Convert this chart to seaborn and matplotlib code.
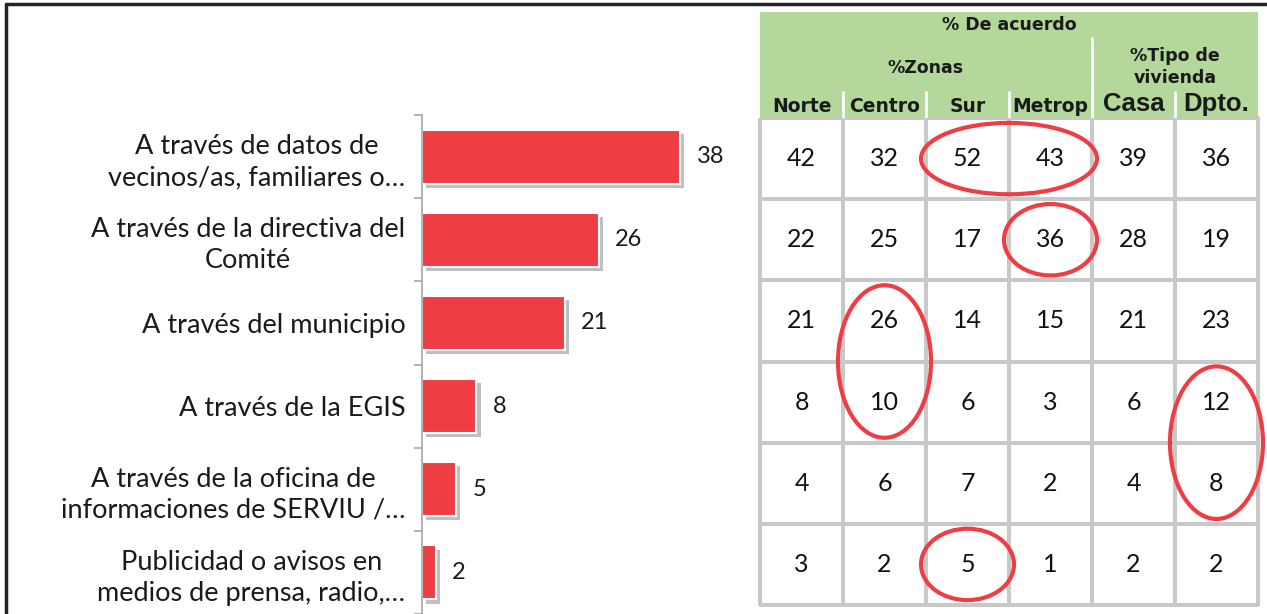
import matplotlib
matplotlib.use("Agg")
import matplotlib.pyplot as plt
import matplotlib.patheffects as pe
from matplotlib.patches import Ellipse
from matplotlib.lines import Line2D
from matplotlib.colors import ListedColormap
import seaborn as sns
import numpy as np
import pandas as pd

# Datos
canales = [
    "A través de datos de\nvecinos/as, familiares o…",
    "A través de la directiva del\nComité",
    "A través del municipio",
    "A través de la EGIS",
    "A través de la oficina de\ninformaciones de SERVIU /…",
    "Publicidad o avisos en\nmedios de prensa, radio,…",
]
total = [38, 26, 21, 8, 5, 2]

columnas = ["Norte", "Centro", "Sur", "Metrop", "Casa", "Dpto."]
norte = [42, 22, 21, 8, 4, 3]
centro = [32, 25, 26, 10, 6, 2]
sur = [52, 17, 14, 6, 7, 5]
metrop = [43, 36, 15, 3, 2, 1]
casa = [39, 28, 21, 6, 4, 2]
dpto = [36, 19, 23, 12, 8, 2]

# celdas destacadas con elipse: (fila_ini, fila_fin, col_ini, col_fin)
destacados = [(0, 0, 2, 3), (1, 1, 3, 3), (2, 3, 1, 1), (3, 4, 5, 5), (5, 5, 2, 2)]

ROJO = "#ee3e44"
VERDE = "#b4d79c"
GRIS = "#a6a6a6"

sns.set_theme(style="white")
plt.rcParams["font.family"] = ["Lato", "DejaVu Sans"]

W, H = 1267, 614
fig = plt.figure(figsize=(W / 100, H / 100), dpi=100)


def fbox(x0, y0, x1, y1):
    # rectangulo en pixeles (desde arriba a la izquierda) -> coordenadas de figura
    return [x0 / W, 1 - y1 / H, (x1 - x0) / W, (y1 - y0) / H]


# Grafico de barras
ax = fig.add_axes(fbox(422, 115, 740, 614))
df = pd.DataFrame({"canal": canales, "total": total})
sns.barplot(data=df, x="total", y="canal", orient="h", color=ROJO, saturation=1,
            width=0.65, edgecolor="white", linewidth=1.5, ax=ax)
for p in ax.patches:
    p.set_path_effects([pe.SimplePatchShadow(offset=(3, -3), shadow_rgbFace="0.45", alpha=0.45),
                        pe.Normal()])
ax.bar_label(ax.containers[0], padding=12, fontsize=17, color="#1a1a1a")
ax.set_xlim(0, 46.8)
ax.set_xticks([])
ax.set_xlabel("")
ax.set_ylabel("")
sns.despine(ax=ax, top=True, right=True, bottom=True)
ax.spines["left"].set_color(GRIS)
ax.spines["left"].set_linewidth(1.2)
ax.set_yticks(np.arange(-0.5, len(canales)), minor=True)
ax.tick_params(axis="y", which="major", length=0, pad=12, labelsize=19.5, labelcolor="#1a1a1a")
ax.tick_params(axis="y", which="minor", left=True, length=6, width=1.2, color=GRIS)
for t in ax.get_yticklabels():
    t.set_multialignment("center")
    t.set_linespacing(1.3)

# Tabla
tabla = pd.DataFrame({"Norte": norte, "Centro": centro, "Sur": sur,
                      "Metrop": metrop, "Casa": casa, "Dpto.": dpto}, index=canales)
axt = fig.add_axes(fbox(760, 118, 1258, 605))
sns.heatmap(tabla, ax=axt, cmap=ListedColormap(["white"]), cbar=False, annot=True, fmt="d",
            annot_kws={"fontsize": 18, "color": "#111111"},
            linewidths=1.5, linecolor="#c8c8c8", xticklabels=False, yticklabels=False)
axt.collections[0].set_clip_on(False)
axt.set_xlabel("")
axt.set_ylabel("")

for r0, r1, c0, c1 in destacados:
    cx = (c0 + c1 + 1) / 2
    cy = (r0 + r1 + 1) / 2
    ancho = (c1 - c0 + 1) + 0.12
    alto = (r1 - r0 + 1) - 0.12
    axt.add_patch(Ellipse((cx, cy), ancho, alto, fill=False, edgecolor=ROJO, lw=3, clip_on=False))

# Encabezado de la tabla
axh = fig.add_axes(fbox(760, 12, 1258, 118))
axh.set_facecolor(VERDE)
axh.set_xlim(0, 6)
axh.set_ylim(106, 0)
axh.set_xticks([])
axh.set_yticks([])
for s in axh.spines.values():
    s.set_visible(False)
for c in range(1, 6):
    axh.plot([c, c], [80, 106], color="white", lw=2)
axh.plot([4, 4], [26, 106], color="white", lw=2)
fb = dict(family="DejaVu Sans", fontweight="bold", fontsize=12.5, color="#1a1a1a",
          ha="center", va="center")
axh.text(3, 13, "% De acuerdo", **fb)
axh.text(2, 56, "%Zonas", **fb)
axh.text(5, 55, "%Tipo de\nvivienda", linespacing=1.35, **fb)
for i, col in enumerate(columnas):
    if col in ("Casa", "Dpto."):
        axh.text(i + 0.5, 92, col, family="Liberation Sans", fontweight="bold", fontsize=18.5,
                 color="#1a1a1a", ha="center", va="center")
    else:
        fc = dict(fb, fontsize=13.5)
        axh.text(i + 0.5, 94, col, **fc)

# Marco exterior
fig.add_artist(Line2D([6 / W, 6 / W], [0, 1 - 4 / H], color="#222222", lw=2.5,
                      transform=fig.transFigure))
fig.add_artist(Line2D([6 / W, 1], [1 - 4 / H, 1 - 4 / H], color="#222222", lw=2.5,
                      transform=fig.transFigure))

fig.savefig("out.png", dpi=100)
